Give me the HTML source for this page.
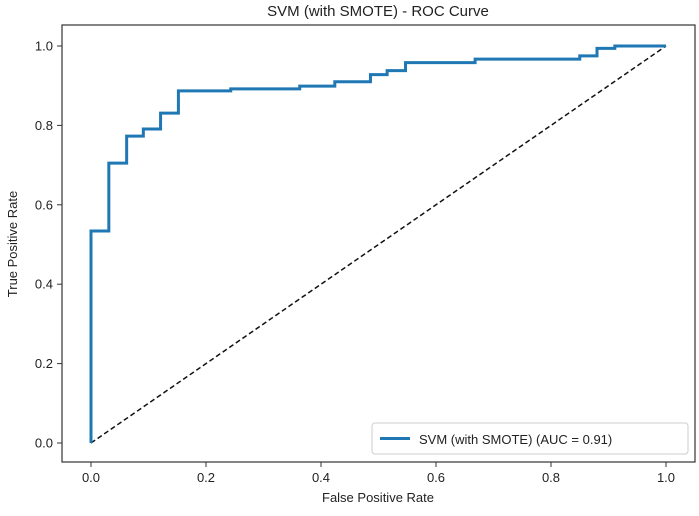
<!DOCTYPE html>
<html><head><meta charset="utf-8"><style>
body{margin:0;background:#fff;}
text{font-family:"Liberation Sans","DejaVu Sans",sans-serif;fill:#222;}
</style></head><body>
<svg id="chart" width="699" height="511" viewBox="0 0 699 511" xmlns="http://www.w3.org/2000/svg">
<text x="378" y="16" text-anchor="middle" font-size="15">SVM (with SMOTE) - ROC Curve</text>
<g id="axes"></g>
<text x="378" y="502" text-anchor="middle" font-size="13">False Positive Rate</text>
<text transform="translate(17,244) rotate(-90)" text-anchor="middle" font-size="13">True Positive Rate</text>
<rect x="62" y="25" width="633" height="437" fill="none" stroke="#333" stroke-width="1.2"/>
<g>
<rect x="372" y="423" width="316" height="31" rx="3" fill="#fff" stroke="#ccc"/>
<line x1="380" y1="438.5" x2="410" y2="438.5" stroke="#1f77b4" stroke-width="3"/>
<text x="419" y="444" font-size="13">SVM (with SMOTE) (AUC = 0.91)</text>
</g>
</svg>
<script>
const fpr=[0,0,0.031,0.031,0.062,0.062,0.091,0.091,0.121,0.121,0.152,0.152,0.243,0.243,0.363,0.363,0.424,0.424,0.486,0.486,0.515,0.515,0.547,0.547,0.668,0.668,0.850,0.850,0.880,0.880,0.911,0.911,1.0];
const tpr=[0,0.534,0.534,0.705,0.705,0.773,0.773,0.791,0.791,0.831,0.831,0.887,0.887,0.892,0.892,0.899,0.899,0.910,0.910,0.928,0.928,0.938,0.938,0.958,0.958,0.967,0.967,0.975,0.975,0.994,0.994,1.0,1.0];
const ticks=[0,0.2,0.4,0.6,0.8,1.0];
const tickLabels=["0.0","0.2","0.4","0.6","0.8","1.0"];
const NS="http://www.w3.org/2000/svg";
const sx=v=>91+v*575, sy=v=>443-v*397;
const g=document.getElementById('axes');
function mk(t,a){const e=document.createElementNS(NS,t);for(const k in a)e.setAttribute(k,a[k]);return e;}
ticks.forEach((t,i)=>{
  const xl=mk('line',{x1:sx(t),x2:sx(t),y1:462,y2:467,stroke:'#333'});
  
  
  g.appendChild(xl);
  const xt=mk('text',{x:sx(t),y:482,'text-anchor':'middle','font-size':13});
  
  
  xt.textContent=tickLabels[i];g.appendChild(xt);
  const yl=mk('line',{x1:57,x2:62,y1:sy(t),y2:sy(t),stroke:'#333'});
  
  
  g.appendChild(yl);
  const yt=mk('text',{x:53,y:sy(t)+4.5,'text-anchor':'end','font-size':13});
  
  
  yt.textContent=tickLabels[i];g.appendChild(yt);
});
const diag=mk('line',{x1:sx(0),y1:sy(0),x2:sx(1),y2:sy(1),stroke:'#111','stroke-width':1.5,'stroke-dasharray':'5,3'});


g.appendChild(diag);
const roc=mk('polyline',{points:fpr.map((f,i)=>sx(f)+','+sy(tpr[i])).join(' '),fill:'none',stroke:'#1f77b4','stroke-width':3,'stroke-linejoin':'miter'});


g.appendChild(roc);
</script>
</body></html>
